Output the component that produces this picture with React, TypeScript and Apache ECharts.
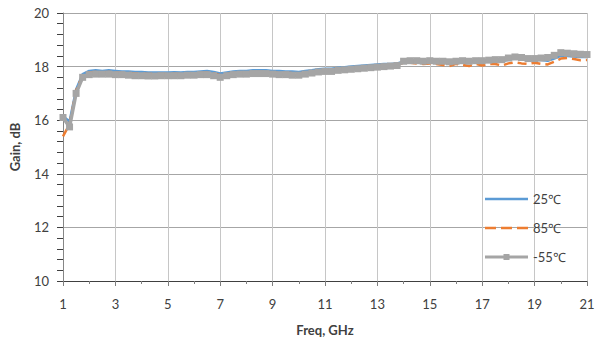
import React, { useEffect, useRef } from "react";
import * as echarts from "echarts";

const freqGHz = [
  1.0, 1.25, 1.5, 1.75, 2.0, 2.25, 2.5, 2.75, 3.0, 3.25, 3.5, 3.75, 4.0, 4.25, 4.5, 4.75,
  5.0, 5.25, 5.5, 5.75, 6.0, 6.25, 6.5, 6.75, 7.0, 7.25, 7.5, 7.75, 8.0, 8.25, 8.5, 8.75,
  9.0, 9.25, 9.5, 9.75, 10.0, 10.25, 10.5, 10.75, 11.0, 11.25, 11.5, 11.75, 12.0, 12.25,
  12.5, 12.75, 13.0, 13.25, 13.5, 13.75, 14.0, 14.25, 14.5, 14.75, 15.0, 15.25, 15.5,
  15.75, 16.0, 16.25, 16.5, 16.75, 17.0, 17.25, 17.5, 17.75, 18.0, 18.25, 18.5, 18.75,
  19.0, 19.25, 19.5, 19.75, 20.0, 20.25, 20.5, 20.75, 21.0,
];

const gain25 = [
  16.15, 15.95, 17.15, 17.72, 17.84, 17.86, 17.84, 17.86, 17.84, 17.82, 17.82, 17.8, 17.8,
  17.78, 17.78, 17.78, 17.78, 17.79, 17.78, 17.8, 17.8, 17.82, 17.84, 17.8, 17.74, 17.78,
  17.82, 17.84, 17.84, 17.86, 17.86, 17.86, 17.84, 17.84, 17.82, 17.82, 17.8, 17.84, 17.86,
  17.9, 17.92, 17.92, 17.96, 17.98, 18.0, 18.02, 18.04, 18.06, 18.08, 18.1, 18.1, 18.12,
  18.18, 18.2, 18.2, 18.18, 18.2, 18.18, 18.18, 18.15, 18.18, 18.2, 18.18, 18.2, 18.2,
  18.2, 18.22, 18.2, 18.25, 18.3, 18.28, 18.25, 18.25, 18.25, 18.22, 18.3, 18.4, 18.4,
  18.38, 18.36, 18.36,
];

const gain85 = [
  15.4, 15.85, 17.1, 17.68, 17.78, 17.8, 17.78, 17.8, 17.78, 17.76, 17.76, 17.74, 17.74,
  17.72, 17.72, 17.72, 17.72, 17.73, 17.72, 17.74, 17.74, 17.76, 17.78, 17.74, 17.68, 17.72,
  17.76, 17.78, 17.78, 17.8, 17.8, 17.8, 17.78, 17.78, 17.76, 17.76, 17.74, 17.78, 17.8,
  17.84, 17.86, 17.86, 17.9, 17.92, 17.94, 17.96, 17.98, 18.0, 18.02, 18.04, 18.04, 18.06,
  18.14, 18.14, 18.12, 18.1, 18.12, 18.1, 18.06, 18.02, 18.1, 18.06, 18.02, 18.1, 18.04,
  18.1, 18.1, 18.04, 18.12, 18.16, 18.12, 18.1, 18.14, 18.1, 18.08, 18.18, 18.3, 18.32,
  18.28, 18.24, 18.25,
];

const gainM55 = [
  16.1, 15.75, 17.0, 17.6, 17.7, 17.72, 17.72, 17.72, 17.7, 17.7, 17.68, 17.66, 17.66,
  17.65, 17.65, 17.66, 17.66, 17.66, 17.66, 17.68, 17.68, 17.7, 17.7, 17.66, 17.6, 17.66,
  17.7, 17.72, 17.72, 17.74, 17.74, 17.74, 17.72, 17.7, 17.7, 17.68, 17.68, 17.72, 17.76,
  17.8, 17.82, 17.82, 17.86, 17.88, 17.9, 17.92, 17.94, 17.96, 17.98, 18.0, 18.02, 18.04,
  18.2, 18.22, 18.22, 18.2, 18.22, 18.2, 18.2, 18.18, 18.2, 18.22, 18.2, 18.22, 18.22,
  18.24, 18.26, 18.26, 18.32, 18.36, 18.34, 18.3, 18.3, 18.32, 18.34, 18.42, 18.52, 18.5,
  18.48, 18.46, 18.45,
];

const seriesNames = ["25℃", "85℃", "-55℃"];

const zip = (xs: number[], ys: number[]) => xs.map((x, i) => [x, ys[i]]);

// legend icons (43 x 14 boxes)
const corners = "M0,0H0.01V0.01H0Z M42.99,13.99H43V14H42.99Z ";
const iconSolid = "path://" + corners + "M0,5.75H43V8.25H0Z";
const iconDashed =
  "path://" + corners + "M0,5.75H11V8.25H0Z M16,5.75H27V8.25H16Z M32,5.75H43V8.25H32Z";
const iconMarker = "path://" + corners + "M0,5.5H43V8.5H0Z M18.5,4H24.5V10H18.5Z";

export default function App() {
  const ref = useRef<HTMLDivElement>(null);
  useEffect(() => {
    if (!ref.current) return;
    const chart = echarts.init(ref.current, undefined, { renderer: "svg" });
    const font = "Lato, 'Noto Sans', sans-serif";
    chart.setOption({
      animation: false,
      backgroundColor: "#ffffff",
      textStyle: { fontFamily: font },
      grid: {
        left: 63,
        right: 8,
        top: 13,
        bottom: 62,
        containLabel: false,
        outerBoundsMode: "none",
      },
      legend: {
        orient: "vertical",
        left: 485,
        top: 192,
        padding: 0,
        itemWidth: 43,
        itemHeight: 14,
        itemGap: 15,
        symbolKeepAspect: true,
        textStyle: { fontSize: 13, color: "#404040", fontFamily: font },
        data: [
          { name: seriesNames[0], icon: iconSolid, itemStyle: { borderWidth: 0 } },
          { name: seriesNames[1], icon: iconDashed, itemStyle: { borderWidth: 0 } },
          { name: seriesNames[2], icon: iconMarker, itemStyle: { borderWidth: 0 } },
        ],
      },
      xAxis: {
        type: "value",
        min: 1,
        max: 21,
        interval: 2,
        name: "Freq, GHz",
        nameLocation: "middle",
        nameGap: 42,
        nameTextStyle: { fontSize: 13, fontWeight: "bold", color: "#404040" },
        axisLine: { show: true, onZero: false, lineStyle: { color: "#404040", width: 1 } },
        axisTick: { show: true, length: 5, lineStyle: { color: "#7f7f7f" } },
        minorTick: { show: true, splitNumber: 2, length: 3, lineStyle: { color: "#7f7f7f" } },
        axisLabel: { fontSize: 13, color: "#404040", margin: 16 },
        splitLine: { show: true, lineStyle: { color: "#c6c6c6", width: 1 } },
      },
      yAxis: {
        type: "value",
        min: 10,
        max: 20,
        interval: 2,
        name: "Gain, dB",
        nameLocation: "middle",
        nameGap: 42,
        nameTextStyle: { fontSize: 13, fontWeight: "bold", color: "#404040" },
        axisLine: { show: true, lineStyle: { color: "#868686", width: 1 } },
        axisTick: { show: true, length: 6, lineStyle: { color: "#404040" } },
        minorTick: { show: true, splitNumber: 5, length: 6, lineStyle: { color: "#404040" } },
        axisLabel: { fontSize: 13, color: "#404040", margin: 14 },
        splitLine: { show: true, lineStyle: { color: "#a6a6a6", width: 1 } },
      },
      series: [
        {
          name: seriesNames[0],
          type: "line",
          data: zip(freqGHz, gain25),
          symbol: "none",
          color: "#5b9bd5",
          lineStyle: { color: "#5b9bd5", width: 2.5 },
          z: 2,
        },
        {
          name: seriesNames[1],
          type: "line",
          data: zip(freqGHz, gain85),
          symbol: "none",
          color: "#ed7d31",
          lineStyle: { color: "#ed7d31", width: 2.5, type: [9, 5] },
          z: 3,
        },
        {
          name: seriesNames[2],
          type: "line",
          data: zip(freqGHz, gainM55),
          symbol: "rect",
          symbolSize: 7,
          showSymbol: true,
          color: "#a5a5a5",
          itemStyle: { color: "#a5a5a5" },
          lineStyle: { color: "#a5a5a5", width: 3.5 },
          z: 4,
        },
      ],
    });
    return () => chart.dispose();
  }, []);
  return (
    <div
      ref={ref}
      style={{ position: "fixed", left: 0, top: 0, width: 595, height: 343 }}
    />
  );
}
